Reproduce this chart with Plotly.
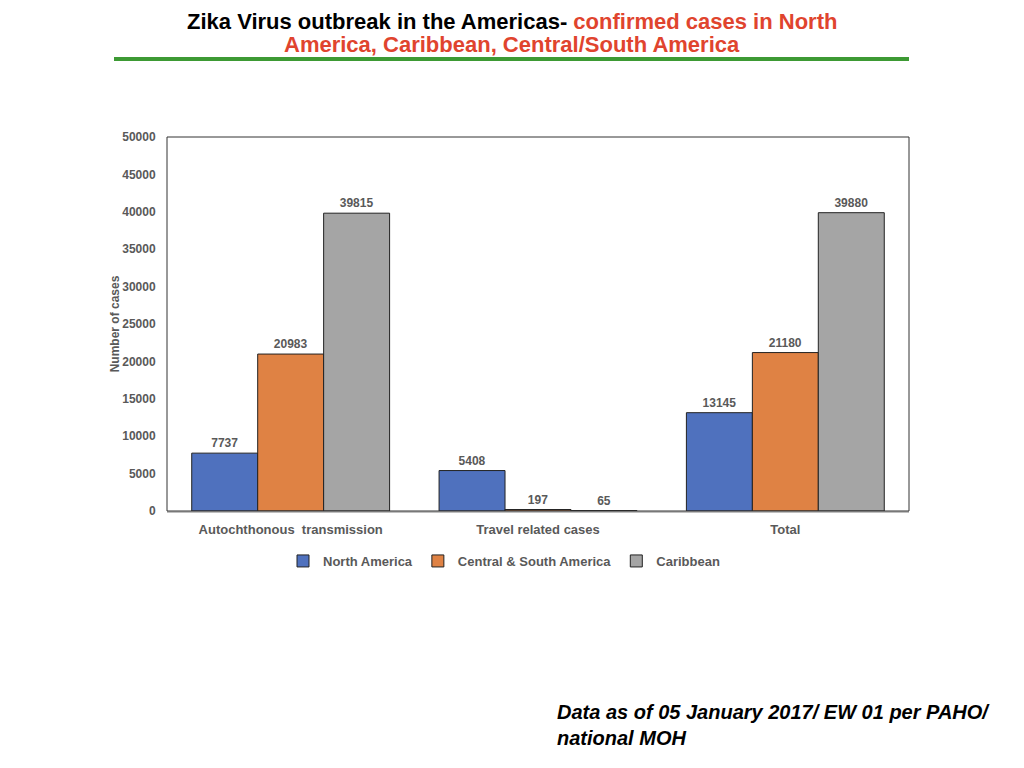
import plotly.graph_objects as go

categories = ["Autochthonous  transmission", "Travel related cases", "Total"]
north_america = [7737, 5408, 13145]
central_south = [20983, 197, 21180]
caribbean = [39815, 65, 39880]

series = [
    ("North America", north_america, "#4f71be"),
    ("Central & South America", central_south, "#df8244"),
    ("Caribbean", caribbean, "#a5a5a5"),
]

FONT = "Liberation Sans, Arial, sans-serif"
GREY = "#595959"
W, H, OFF = 1024, 768, 8  # page body has an 8px margin


def px(x):
    return (x - OFF) / W


def py(y):
    return 1 - (y - OFF) / H


fig = go.Figure()
for name, vals, col in series:
    fig.add_trace(go.Bar(
        x=categories, y=vals, name=name,
        marker=dict(color=col, line=dict(color="#222222", width=1)),
        text=[str(v) for v in vals], textposition="outside",
        textfont=dict(family=FONT, size=12, color=GREY, weight="bold"),
        cliponaxis=False,
    ))

fig.update_layout(
    width=W, height=H,
    paper_bgcolor="white", plot_bgcolor="white",
    barmode="group", bargap=0.2, bargroupgap=0,
    margin=dict(l=0, r=0, t=0, b=0),
    font=dict(family=FONT, color=GREY),
    xaxis=dict(
        domain=[px(167), px(909)], automargin=False,
        showline=True, linecolor="#bfbfbf", linewidth=2,
        ticks="outside", ticklen=5, tickcolor="rgba(0,0,0,0)",
        tickfont=dict(size=13, color=GREY, weight="bold"),
        showgrid=False,
    ),
    yaxis=dict(
        domain=[py(511), py(137)], automargin=False,
        range=[0, 50000], dtick=5000, tickformat="d", showgrid=False,
        showline=False, ticks="outside", ticklen=8, tickcolor="rgba(0,0,0,0)",
        zeroline=False,
        tickfont=dict(size=12, color=GREY, weight="bold"),
        title=dict(text="Number of cases", font=dict(size=12, color=GREY, weight="bold"), standoff=0),
    ),
    showlegend=True,
    legend=dict(
        orientation="h", x=px(504), xanchor="center", y=py(546), yanchor="top",
        font=dict(size=13, color=GREY, weight="bold"),
        itemwidth=30, traceorder="normal",
    ),
    shapes=[
        dict(type="rect", xref="paper", yref="paper",
             x0=px(167), x1=px(909), y0=py(511), y1=py(137),
             line=dict(color="#333333", width=1)),
        dict(type="line", xref="paper", yref="paper",
             x0=px(114), x1=px(909), y0=py(59), y1=py(59),
             line=dict(color="#3d9a34", width=4)),
    ],
    annotations=[
        dict(xref="paper", yref="paper", x=px(512), y=py(21), xanchor="center", yanchor="middle",
             showarrow=False,
             text="<b><span style='color:#000000'>Zika Virus outbreak in the Americas- </span>"
                  "<span style='color:#e0442e'>confirmed cases in North</span></b>",
             font=dict(family=FONT, size=22)),
        dict(xref="paper", yref="paper", x=px(512), y=py(44), xanchor="center", yanchor="middle",
             showarrow=False,
             text="<b>America, Caribbean, Central/South America</b>",
             font=dict(family=FONT, size=22, color="#e0442e")),
        dict(xref="paper", yref="paper", x=px(555), y=py(725), xanchor="left", yanchor="middle",
             showarrow=False, align="left",
             text="<b><i>Data as of 05 January 2017/ EW 01 per PAHO/<br>national MOH</i></b>",
             font=dict(family=FONT, size=20, color="#000000")),
    ],
)

fig.write_html("out.html")
